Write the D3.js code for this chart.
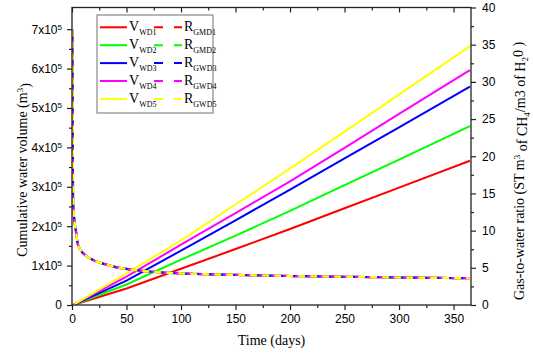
<!DOCTYPE html>
<html>
<head>
<meta charset="utf-8">
<script src="https://cdn.jsdelivr.net/npm/d3@7"></script>
<style>
  body { margin: 0; background: #fff; }
  text { fill: #000; }
</style>
</head>
<body>
<div id="chart"></div>
<script>
// cumulative water volume, days
var vDays = [1, 50, 100, 150, 200, 250, 300, 365];
var vWD1 = [0, 0.42e5, 0.92e5, 1.42e5, 1.93e5, 2.455e5, 2.98e5, 3.66e5];
var vWD2 = [0, 0.52e5, 1.15e5, 1.76e5, 2.39e5, 3.04e5, 3.69e5, 4.54e5];
var vWD3 = [0, 0.62e5, 1.38e5, 2.15e5, 2.93e5, 3.72e5, 4.51e5, 5.54e5];
var vWD4 = [0, 0.72e5, 1.53e5, 2.33e5, 3.14e5, 3.99e5, 4.85e5, 5.96e5];
var vWD5 = [0, 0.80e5, 1.64e5, 2.55e5, 3.46e5, 4.40e5, 5.34e5, 6.57e5];

// gas-to-water ratio (all five cases overlap)
var rDays = [0.3, 0.7, 1, 1.5, 2.5, 4, 5, 7, 10, 15, 20, 30, 40, 50, 60, 75, 100, 150, 200, 250, 300, 365];
var rGWD = [37, 25, 14, 12.5, 11, 9.6, 8.4, 7.6, 7.0, 6.4, 6.0, 5.5, 5.1, 4.85, 4.65, 4.45, 4.25, 4.05, 3.9, 3.8, 3.7, 3.6];

var xTicks = [0, 50, 100, 150, 200, 250, 300, 350];
var leftTicks = [0, 1e5, 2e5, 3e5, 4e5, 5e5, 6e5, 7e5];
var rightTicks = [0, 5, 10, 15, 20, 25, 30, 35, 40];

var colors = ["#ff0000", "#00ff00", "#0000ff", "#ff00ff", "#ffff00"];
var vNames = ["WD1", "WD2", "WD3", "WD4", "WD5"];
var rNames = ["GMD1", "GMD2", "GWD3", "GWD4", "GWD5"];
var vSeries = [vWD1, vWD2, vWD3, vWD4, vWD5];

var W = 533, H = 353,
    pLeft = 72, pRight = 471, pTop = 7.5, pBottom = 305;

var svg = d3.select("#chart").append("svg")
    .attr("width", W)
    .attr("height", H);

var x = d3.scaleLinear().domain([0, 366]).range([pLeft, pRight]);
var yL = d3.scaleLinear().domain([0, 7.55e5]).range([pBottom, pTop]);
var yR = d3.scaleLinear().domain([0, 40]).range([pBottom, pTop]);

svg.append("clipPath").attr("id", "clip")
  .append("rect")
    .attr("x", pLeft).attr("y", pTop)
    .attr("width", pRight - pLeft).attr("height", pBottom - pTop);

var plot = svg.append("g").attr("clip-path", "url(#clip)");

// V lines
var vLine = d3.line()
    .x(d => x(d[0]))
    .y(d => yL(d[1]));

vSeries.forEach(function(s, i) {
    plot.append("path")
        .datum(vDays.map((d, j) => [d, s[j]]))
        .attr("fill", "none")
        .attr("stroke", colors[i])
        .attr("stroke-width", 2)
        .attr("d", vLine);
});

// R curves, dashed, shifted so the colours mix
var rLine = d3.line()
    .curve(d3.curveMonotoneX)
    .x(d => x(d[0]))
    .y(d => yR(d[1]));

colors.forEach(function(c, i) {
    plot.append("path")
        .datum(rDays.map((d, j) => [d, rGWD[j]]))
        .attr("fill", "none")
        .attr("stroke", c)
        .attr("stroke-width", 2.2)
        .attr("stroke-dasharray", "7,5")
        .attr("stroke-dashoffset", -i * 3)
        .attr("d", rLine);
});

// axes
var font = "'Liberation Sans', Arial, sans-serif";
var serif = "'Liberation Serif', 'Times New Roman', serif";

function styleAxis(g) {
    g.select(".domain").remove();
    g.selectAll("line").attr("stroke", "#222").attr("stroke-width", 1.2);
    g.selectAll("text").style("font-family", font).style("font-size", "12px").attr("fill", "#000");
}

// bottom
svg.append("g")
    .attr("transform", "translate(0," + pBottom + ")")
    .call(d3.axisBottom(x).tickValues(xTicks).tickSize(5).tickPadding(4))
    .call(styleAxis);
svg.append("g")
    .attr("transform", "translate(0," + pBottom + ")")
    .call(d3.axisBottom(x).tickValues(d3.range(25, 366, 50)).tickSize(3).tickFormat(""))
    .call(styleAxis);

// top (inward)
svg.append("g")
    .attr("transform", "translate(0," + pTop + ")")
    .call(d3.axisBottom(x).tickValues(xTicks).tickSize(5).tickFormat(""))
    .call(styleAxis);
svg.append("g")
    .attr("transform", "translate(0," + pTop + ")")
    .call(d3.axisBottom(x).tickValues(d3.range(25, 366, 50)).tickSize(3).tickFormat(""))
    .call(styleAxis);

// left
var gl = svg.append("g")
    .attr("transform", "translate(" + pLeft + ",0)")
    .call(d3.axisLeft(yL).tickValues(leftTicks).tickSize(5).tickPadding(5))
    .call(styleAxis);
svg.append("g")
    .attr("transform", "translate(" + pLeft + ",0)")
    .call(d3.axisLeft(yL).tickValues(d3.range(0.5e5, 7.5e5, 1e5)).tickSize(3).tickFormat(""))
    .call(styleAxis);

gl.selectAll(".tick text").each(function(d) {
    var t = d3.select(this).text("");
    if (d === 0) { t.text("0"); return; }
    t.append("tspan").text((d / 1e5) + "x10");
    t.append("tspan").text("5").attr("dy", "-0.5em").style("font-size", "8px");
});

// right
svg.append("g")
    .attr("transform", "translate(" + pRight + ",0)")
    .call(d3.axisRight(yR).tickValues(rightTicks).tickSize(5).tickPadding(6))
    .call(styleAxis);
svg.append("g")
    .attr("transform", "translate(" + pRight + ",0)")
    .call(d3.axisRight(yR).tickValues(d3.range(2.5, 40, 5)).tickSize(3).tickFormat(""))
    .call(styleAxis);

// frame
svg.append("rect")
    .attr("x", pLeft).attr("y", pTop)
    .attr("width", pRight - pLeft).attr("height", pBottom - pTop)
    .attr("fill", "none")
    .attr("stroke", "#222")
    .attr("stroke-width", 1.3);

// axis titles
svg.append("text")
    .attr("x", (pLeft + pRight) / 2).attr("y", 345)
    .attr("text-anchor", "middle")
    .style("font-family", serif).style("font-size", "14px")
    .text("Time (days)");

var yt = svg.append("text")
    .attr("transform", "translate(27,170) rotate(-90)")
    .attr("text-anchor", "middle")
    .style("font-family", serif).style("font-size", "14px");
yt.append("tspan").text("Cumulative water volume (m");
yt.append("tspan").text("3").attr("dy", "-0.5em").style("font-size", "9px");
yt.append("tspan").text(")").attr("dy", "0.5em");

var rt = svg.append("text")
    .attr("transform", "translate(524,171) rotate(-90)")
    .attr("text-anchor", "middle")
    .style("font-family", serif).style("font-size", "14px");
rt.append("tspan").text("Gas-to-water ratio (ST m");
rt.append("tspan").text("3").attr("dy", "-0.5em").style("font-size", "9px");
rt.append("tspan").text(" of CH").attr("dy", "0.5em");
rt.append("tspan").text("4").attr("dy", "0.35em").style("font-size", "9px");
rt.append("tspan").text("/m3 of H").attr("dy", "-0.35em");
rt.append("tspan").text("2").attr("dy", "0.35em").style("font-size", "9px");
rt.append("tspan").text("0 )").attr("dy", "-0.35em");

// legend
var lg = svg.append("g");
lg.append("rect")
    .attr("x", 97).attr("y", 15)
    .attr("width", 116).attr("height", 98)
    .attr("fill", "#fff")
    .attr("stroke", "#888")
    .attr("stroke-width", 1.2);

colors.forEach(function(c, i) {
    var yy = 27.3 + i * 17.9;
    lg.append("line")
        .attr("x1", 100).attr("x2", 127)
        .attr("y1", yy).attr("y2", yy)
        .attr("stroke", c).attr("stroke-width", 2);
    lg.append("line")
        .attr("x1", 154).attr("x2", 182)
        .attr("y1", yy).attr("y2", yy)
        .attr("stroke", c).attr("stroke-width", 2)
        .attr("stroke-dasharray", "9,11");
    var t1 = lg.append("text")
        .attr("x", 129).attr("y", yy + 4)
        .style("font-family", serif).style("font-size", "14px");
    t1.append("tspan").text("V");
    t1.append("tspan").text(vNames[i]).attr("dy", 4).style("font-size", "8px");
    var t2 = lg.append("text")
        .attr("x", 184).attr("y", yy + 4)
        .style("font-family", serif).style("font-size", "14px");
    t2.append("tspan").text("R");
    t2.append("tspan").text(rNames[i]).attr("dy", 4).style("font-size", "8px");
});
</script>
</body>
</html>
